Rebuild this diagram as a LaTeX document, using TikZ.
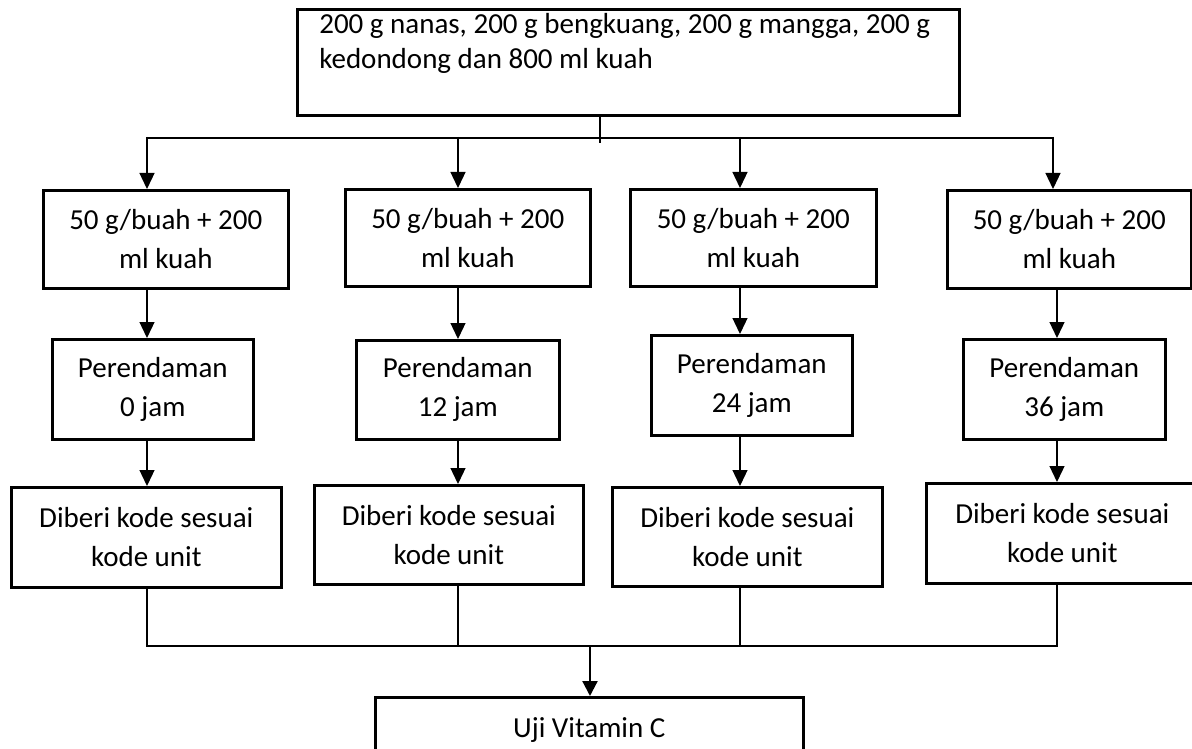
\documentclass[tikz,border=0pt]{standalone}
\usepackage{fontspec}
\setmainfont{Carlito}
\usetikzlibrary{arrows.meta}
\tikzset{
  box/.style={draw, line width=2.6pt, align=center, inner sep=0pt, font=\fontsize{29}{39}\selectfont},
  thinline/.style={line width=1.3pt},
  thickline/.style={line width=2.2pt},
  arr/.style={line width=1.3pt, -{Triangle[width=15pt,length=16pt]}},
  arrthick/.style={line width=2.2pt, -{Triangle[width=15pt,length=15pt]}}
}
\newcommand{\bx}[6]{\node[box, anchor=north west, minimum width={#4-#2}, minimum height={#5-#3}] (#1) at (#2,#3) {#6};}
\begin{document}
\begin{tikzpicture}[x=1pt,y=-1pt]
\useasboundingbox (0,0) rectangle (1192,749);
% top box
\node[box, anchor=north west, font=\fontsize{29}{35}\selectfont] (top) at (296,8) {\parbox[t][106pt][t]{662pt}{\leftskip=22pt\rule{0pt}{24pt}200 g nanas, 200 g bengkuang, 200 g mangga, 200 g\\kedondong dan 800 ml kuah}};
% row 1
\bx{a1}{42}{189}{287}{287}{50 g/buah + 200\\ml kuah}
\bx{a2}{344}{188}{589}{285}{50 g/buah + 200\\ml kuah}
\bx{a3}{629}{188}{875}{285}{50 g/buah + 200\\ml kuah}
\bx{a4}{946}{189}{1190}{287}{50 g/buah + 200\\ml kuah}
% row 2
\bx{b1}{51}{338}{252}{438}{Perendaman\\0 jam}
\bx{b2}{355}{339}{558}{438}{Perendaman\\12 jam}
\bx{b3}{650}{334}{851}{434}{Perendaman\\24 jam}
\bx{b4}{962}{338}{1164}{438}{Perendaman\\36 jam}
% row 3
\bx{c1}{10}{486}{280}{586}{Diberi kode sesuai\\kode unit}
\bx{c2}{313}{484}{582}{583}{Diberi kode sesuai\\kode unit}
\bx{c3}{611}{486}{881}{585}{Diberi kode sesuai\\kode unit}
\bx{c4}{925}{482}{1197}{582}{Diberi kode sesuai\\kode unit}
% bottom box
\node[box, anchor=north west] (uji) at (374,696) {\parbox[t][80pt][t]{428pt}{\centering\rule{0pt}{40pt}Uji Vitamin C}};
% column coordinates
\coordinate (k1) at (147,0);
\coordinate (k2) at (458,0);
\coordinate (k3) at (740,0);
\coordinate (k4) at (1053,0);
\coordinate (k4b) at (1057,0);
\coordinate (k0) at (600,0);
\coordinate (kb) at (590,0);
\coordinate (hy) at (0,138);
\coordinate (ly) at (0,646);
% top distribution
\draw[thinline] (top.south -| k0) -- (600,143);
\draw[thinline] (hy -| k1) -- (hy -| k4);
\draw[arr] ([yshift=1]hy -| k1) -- (a1.north -| k1);
\draw[arr] ([yshift=1]hy -| k2) -- (a2.north -| k2);
\draw[arr] ([yshift=1]hy -| k3) -- (a3.north -| k3);
\draw[arr] ([yshift=1]hy -| k4) -- (a4.north -| k4);
% row1 -> row2
\draw[arr] (a1.south -| k1) -- (b1.north -| k1);
\draw[arr] (a2.south -| k2) -- (b2.north -| k2);
\draw[arr] (a3.south -| k3) -- (b3.north -| k3);
\draw[arr] (a4.south -| k4b) -- (b4.north -| k4b);
% row2 -> row3
\draw[arr] (b1.south -| k1) -- (c1.north -| k1);
\draw[arr] (b2.south -| k2) -- (c2.north -| k2);
\draw[arr] (b3.south -| k3) -- (c3.north -| k3);
\draw[arr] (b4.south -| k4b) -- (c4.north -| k4b);
% collect
\draw[thickline] (c1.south -| k1) -- (ly -| k1) -- (ly -| k4b) -- (c4.south -| k4b);
\draw[thickline] (c2.south -| k2) -- (ly -| k2);
\draw[thickline] (c3.south -| k3) -- (ly -| k3);
\draw[arrthick] (ly -| kb) -- (uji.north -| kb);
\end{tikzpicture}
\end{document}
